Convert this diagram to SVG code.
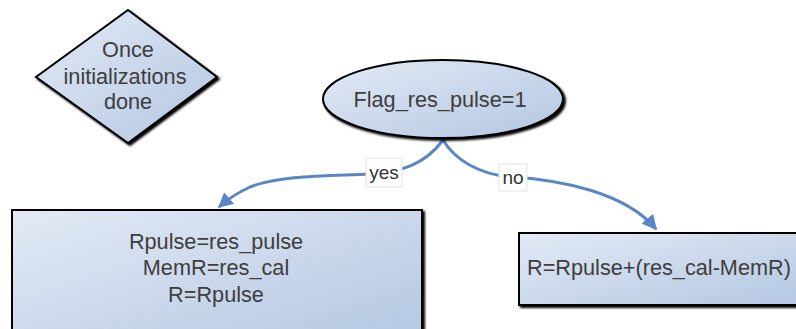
<svg xmlns="http://www.w3.org/2000/svg" width="796" height="329" viewBox="0 0 796 329">
<defs>
<linearGradient id="fill" x1="0" y1="0" x2="1" y2="1">
<stop offset="0" stop-color="#e3eaf5"/>
<stop offset="1" stop-color="#b3c6e2"/>
</linearGradient>
<marker id="arr" viewBox="0 0 10 10" refX="9" refY="5" markerWidth="5" markerHeight="5" orient="auto" markerUnits="strokeWidth">
<path d="M0,0 L10,5 L0,10 z" fill="#5b86c5"/>
</marker>
<filter id="sh" x="-10%" y="-10%" width="130%" height="130%">
<feOffset dx="2" dy="2" in="SourceAlpha" result="o"/>
<feGaussianBlur in="o" stdDeviation="1" result="b"/>
<feMerge><feMergeNode in="b"/><feMergeNode in="SourceGraphic"/></feMerge>
</filter>
</defs>
<style>
.shape{fill:url(#fill);stroke:#000;stroke-width:2;filter:url(#sh)}
.t{font-family:"Liberation Sans",Arial,sans-serif;font-size:21.7px;fill:#3d3d3d;text-anchor:middle}
.lbl{font-family:"Liberation Sans",Arial,sans-serif;font-size:19px;fill:#333;text-anchor:middle}
.conn{fill:none;stroke:#5b86c5;stroke-width:3;marker-end:url(#arr)}
.lbox{fill:#fff;stroke:#e2e2e2;stroke-width:1}
</style>
<rect width="796" height="329" fill="#fff"/>
<g id="connectors">
<path class="conn" d="M443,140 C425,165 400,172 370,174 C330,176 280,175 250,187 C237,193 228,199 219,207"/>
<path class="conn" d="M443,140 C455,160 480,175 512,177 C560,180 625,192 656,229"/>
<rect class="lbox" x="366" y="158" width="36" height="29"/>
<text class="lbl" x="384" y="179">yes</text>
<rect class="lbox" x="499" y="164" width="28" height="27"/>
<text class="lbl" x="513" y="184">no</text>
</g>
<g id="init">
<polygon class="shape" points="128,10 217,77 128,143 36,77"/>
<text class="t" x="128" y="57">Once</text>
<text class="t" x="125" y="84">initializations</text>
<text class="t" x="128" y="109">done</text>
</g>
<g id="flag">
<ellipse class="shape" cx="443" cy="99" rx="120" ry="39"/>
<text class="t" x="440" y="107">Flag_res_pulse=1</text>
</g>
<g id="yesbox">
<rect class="shape" x="12" y="210" width="410" height="135"/>
<text class="t" x="216" y="249">Rpulse=res_pulse</text>
<text class="t" x="216" y="275">MemR=res_cal</text>
<text class="t" x="216" y="302">R=Rpulse</text>
</g>
<g id="nobox">
<rect class="shape" x="519" y="233" width="300" height="72"/>
<text class="t" x="527" y="275" style="text-anchor:start">R=Rpulse+(res_cal-MemR)</text>
</g>
</svg>
